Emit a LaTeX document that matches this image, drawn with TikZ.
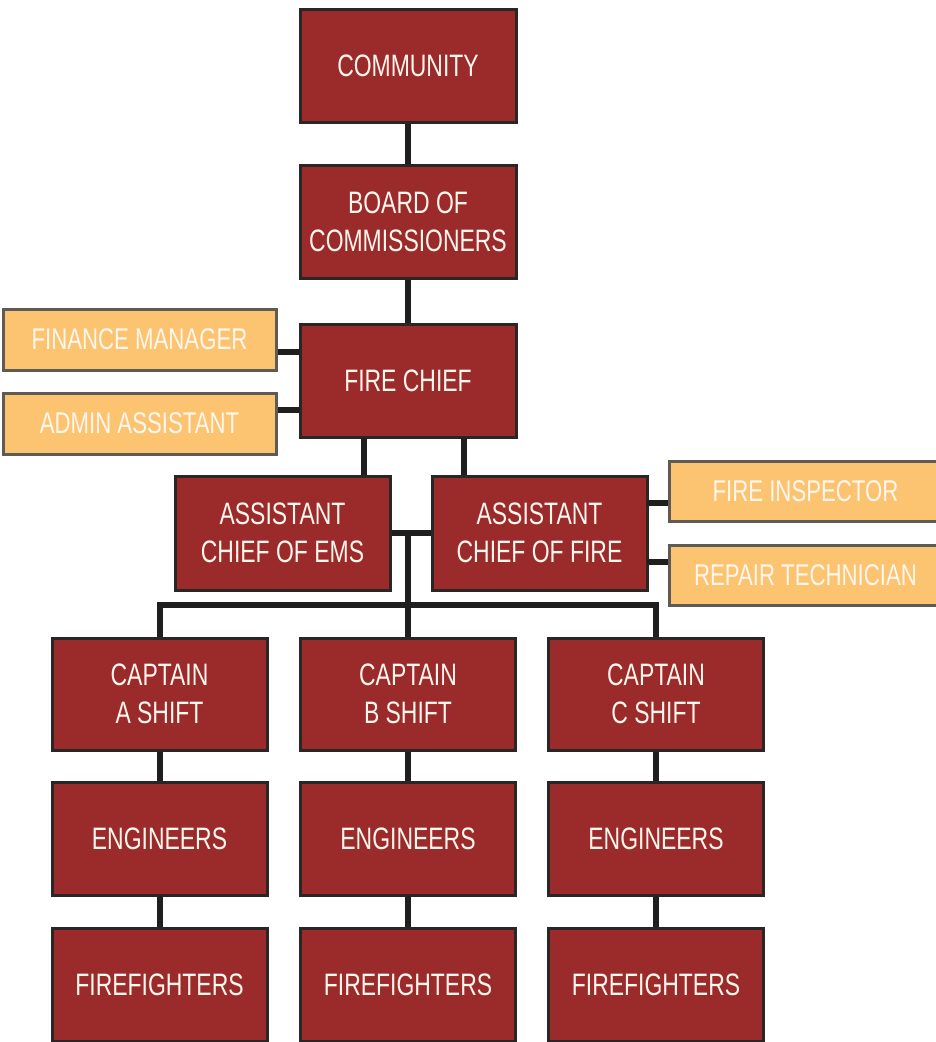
\documentclass[tikz,border=0pt]{standalone}
\usepackage{fontspec}
\setmainfont{Liberation Sans}[FakeStretch=0.74]
\definecolor{boxred}{HTML}{9B2A2B}
\definecolor{boxorange}{HTML}{FCC470}
\definecolor{edgedark}{HTML}{2B2626}
\definecolor{edgegray}{HTML}{5E5A56}
\definecolor{txt}{HTML}{FFF6EE}
\tikzset{
  redbox/.style={draw=edgedark, line width=3pt, fill=boxred, text=txt,
    minimum width=216pt, minimum height=113pt, inner sep=0pt, align=center,
    font=\fontsize{31}{38}\selectfont},
  orangebox/.style={draw=edgegray, line width=3pt, fill=boxorange, text=txt,
    minimum width=273pt, minimum height=61pt, inner sep=0pt, align=center,
    font=\fontsize{30}{38}\selectfont},
  link/.style={draw=black!88, line width=6pt}
}
\begin{document}
\begin{tikzpicture}[x=1pt,y=-1pt]
\useasboundingbox (0,0) rectangle (935,1042);
\fill[white] (0,0) rectangle (935,1042);
% nodes
\node[redbox] (comm) at (408,65.5) {COMMUNITY};
\node[redbox] (board) at (408,221.5) {BOARD OF\\COMMISSIONERS};
\node[redbox] (chief) at (408,381) {FIRE CHIEF};
\node[orangebox] (fin) at (139.5,339.5) {FINANCE MANAGER};
\node[orangebox] (admin) at (139.5,423.5) {ADMIN ASSISTANT};
\node[redbox, minimum width=215pt, minimum height=114pt] (ems) at (282.5,533) {ASSISTANT\\CHIEF OF EMS};
\node[redbox, minimum width=215pt, minimum height=114pt] (afire) at (539.5,533) {ASSISTANT\\CHIEF OF FIRE};
\node[orangebox, minimum height=60pt] (insp) at (805.5,491) {FIRE INSPECTOR};
\node[orangebox, minimum height=60pt] (repair) at (805.5,575) {REPAIR TECHNICIAN};
\node[redbox, minimum width=215pt, minimum height=112pt] (capA) at (159.5,694) {CAPTAIN\\A SHIFT};
\node[redbox, minimum width=215pt, minimum height=112pt] (capB) at (408,694) {CAPTAIN\\B SHIFT};
\node[redbox, minimum width=215pt, minimum height=112pt] (capC) at (656,694) {CAPTAIN\\C SHIFT};
\node[redbox, minimum width=215pt] (engA) at (159.5,838.5) {ENGINEERS};
\node[redbox, minimum width=215pt] (engB) at (408,838.5) {ENGINEERS};
\node[redbox, minimum width=215pt] (engC) at (656,838.5) {ENGINEERS};
\node[redbox, minimum width=215pt] (ffA) at (159.5,985) {FIREFIGHTERS};
\node[redbox, minimum width=215pt] (ffB) at (408,985) {FIREFIGHTERS};
\node[redbox, minimum width=215pt] (ffC) at (656,985) {FIREFIGHTERS};
% helper coordinates
\coordinate (finlink) at (300,352);
\coordinate (adminlink) at (300,410);
\coordinate (emsdrop) at (364,438);
\coordinate (firedrop) at (464,438);
\coordinate (mid) at (408,533);
\coordinate (bus) at (408,605);
\coordinate (insplink) at (647,503);
\coordinate (repairlink) at (647,562);
% connectors
\path[link] (comm) -- (board);
\path[link] (board) -- (chief);
\path[link] (finlink) -- (finlink -| fin.east);
\path[link] (adminlink) -- (adminlink -| admin.east);
\path[link] (emsdrop) -- (emsdrop |- ems.north);
\path[link] (firedrop) -- (firedrop |- afire.north);
\path[link] (ems.east) -- (afire.west);
\path[link] (mid) -- (bus);
\path[link] (capA.north) |- (bus) -| (capC.north);
\path[link] (bus) -- (capB.north);
\path[link] (insplink) -- (insplink -| insp.west);
\path[link] (repairlink) -- (repairlink -| repair.west);
\path[link] (capA) -- (engA);
\path[link] (capB) -- (engB);
\path[link] (capC) -- (engC);
\path[link] (engA) -- (ffA);
\path[link] (engB) -- (ffB);
\path[link] (engC) -- (ffC);
\end{tikzpicture}
\end{document}
